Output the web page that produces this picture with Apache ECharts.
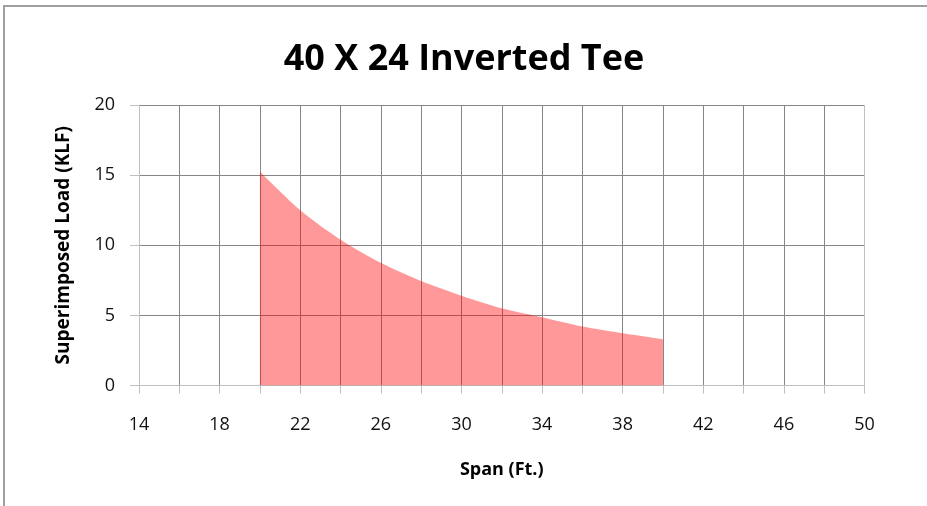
<!DOCTYPE html>
<html>
<head>
<meta charset="utf-8">
<script src="https://cdn.jsdelivr.net/npm/echarts@6/dist/echarts.min.js"></script>
<style>html,body{margin:0;padding:0;background:#fff;}#c{width:927px;height:506px;}</style>
</head>
<body>
<div id="c"></div>
<script>
const spans = [20, 22, 24, 26, 28, 30, 32, 34, 36, 38, 40];
const loads = [15.24, 12.5, 10.4, 8.75, 7.45, 6.4, 5.5, 4.86, 4.2, 3.72, 3.29];
const xLabels = [14, 18, 22, 26, 30, 34, 38, 42, 46, 50];
const titleText = '40 X 24 Inverted Tee';
const xName = 'Span (Ft.)';
const yName = 'Superimposed Load (KLF)';

const FONT = 'Open Sans';
const dark = '#868686', light = '#bfbfbf';
const xSplitColors = [];
for (let i = 0; i < 19; i++) xSplitColors.push(i === 18 ? light : dark);

const chart = echarts.init(document.getElementById('c'), null, {renderer: 'canvas'});
chart.setOption({
  animation: false,
  backgroundColor: '#fff',
  title: {
    text: titleText, left: 459, top: 37, textAlign: 'center',
    textStyle: {fontFamily: FONT, fontWeight: 'bold', fontSize: 36, color: '#000'}
  },
  graphic: [{
    type: 'rect', shape: {x: 4, y: 6, width: 1200, height: 1200},
    style: {fill: 'none', stroke: '#a0a0a0', lineWidth: 2}, silent: true
  }],
  grid: {left: 139, right: 62.5, top: 105, bottom: 120.5},
  xAxis: {
    type: 'value', min: 14, max: 50, interval: 2,
    name: xName, nameLocation: 'middle', nameGap: 75,
    nameTextStyle: {fontFamily: FONT, fontWeight: 'bold', fontSize: 18, color: '#000'},
    axisLine: {show: true, lineStyle: {color: light, width: 1}},
    axisTick: {show: true, length: 8, inside: false, lineStyle: {color: light}},
    axisLabel: {
      margin: 30, fontFamily: FONT, fontSize: 18, color: '#111',
      formatter: v => (xLabels.indexOf(v) >= 0 ? String(v) : '')
    },
    splitLine: {show: true, lineStyle: {color: xSplitColors, width: 1}}
  },
  yAxis: {
    type: 'value', min: 0, max: 20, interval: 5,
    name: yName, nameLocation: 'middle', nameGap: 66,
    nameTextStyle: {fontFamily: FONT, fontWeight: 'bold', fontSize: 19, color: '#000'},
    axisLine: {show: true, lineStyle: {color: light, width: 1}},
    axisTick: {show: true, length: 9, inside: false, lineStyle: {color: light}},
    axisLabel: {margin: 24, fontFamily: FONT, fontSize: 18, color: '#111'},
    splitLine: {show: true, lineStyle: {color: dark, width: 1}}
  },
  series: [{
    type: 'line',
    data: spans.map((s, i) => [s, loads[i]]),
    smooth: 0.25,
    showSymbol: false, symbol: 'none',
    lineStyle: {width: 0},
    areaStyle: {color: 'rgba(255,0,0,0.4)', opacity: 1}
  }]
});
</script>
</body>
</html>
